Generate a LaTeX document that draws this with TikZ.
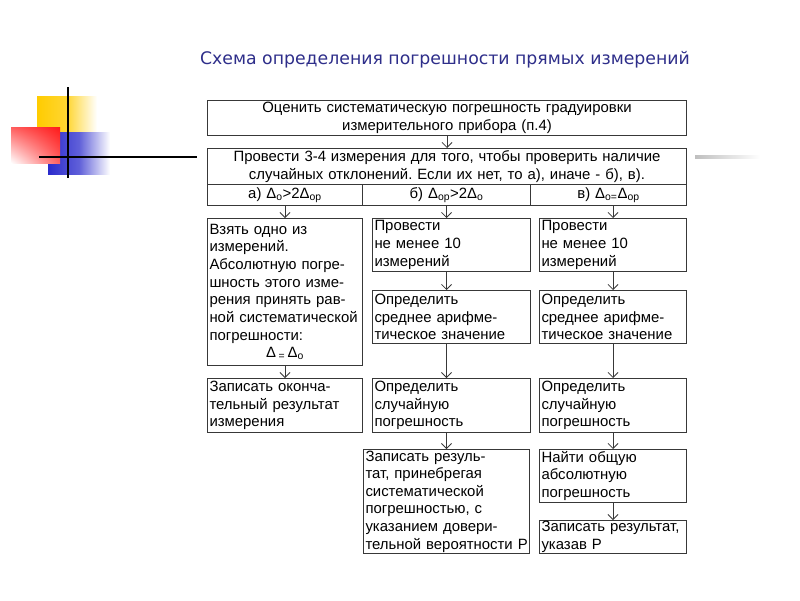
\documentclass[tikz,border=0pt]{standalone}
\usepackage{fontspec}
\setmainfont{Liberation Sans}
\newfontfamily\titlefont{DejaVu Sans}
\usetikzlibrary{arrows.meta,calc,shadings}
\definecolor{titleblue}{HTML}{2E2E8A}
\definecolor{lineg}{HTML}{383838}
\definecolor{decoyellow}{HTML}{FFCC00}
\definecolor{decored}{HTML}{FF1A1A}
\definecolor{decoblue}{HTML}{2B2BCC}
\frenchspacing
\begin{document}
\begin{tikzpicture}[x=1pt,y=-1pt,
  box/.style={draw=lineg, line width=1pt, anchor=north west, inner xsep=2pt, inner ysep=0pt,
    font=\frenchspacing\fontsize{14.9}{17.6}\selectfont, align=left},
  cbox/.style={box, align=center},
  arr/.style={draw=lineg, line width=0.8pt, -{Straight Barb[length=5pt,width=10pt,line width=0.8pt]}}
]
\useasboundingbox[fill=white] (0,0) rectangle (800,600);

% decoration
\shade[left color=decoyellow, right color=white, middle color=decoyellow!80] (37,96) rectangle (97,133);
\shade[left color=decoblue, right color=white, middle color=decoblue!75] (48,132) rectangle (110,174);
\shade[upper right=decored, upper left=decored!70, lower right=decored!70, lower left=white] (11,127) rectangle (60,163);
\draw[black, line width=2pt] (68,87) -- (68,178);
\draw[black, line width=2pt] (39,157) -- (197,157);
\shade[left color=black!25, right color=white] (695,155) rectangle (760,158);

% title
\node[font=\titlefont\fontsize{17.3}{20}\selectfont, text=titleblue] (title) at (445,60) {Схема определения погрешности прямых измерений};

% top boxes
\node[cbox, minimum width=479pt, text width=475pt, minimum height=35pt] (b1) at (207,100)
  {Оценить систематическую погрешность градуировки\\измерительного прибора (п.4)};
\node[cbox, minimum width=479pt, text width=475pt, minimum height=36pt] (b2) at (207,148)
  {Провести 3-4 измерения для того, чтобы проверить наличие\\случайных отклонений. Если их нет, то а), иначе - б), в).};
\node[cbox, minimum width=155pt, text width=151pt, minimum height=21pt] (ca) at (207,184)
  {а) Δ\textsubscript{о}>2Δ\textsubscript{ор}};
\node[cbox, minimum width=168pt, text width=164pt, minimum height=21pt] (cb) at (362,184)
  {б) Δ\textsubscript{ор}>2Δ\textsubscript{о}};
\node[cbox, minimum width=156pt, text width=152pt, minimum height=21pt] (cc) at (530,184)
  {в) Δ\textsubscript{о=}Δ\textsubscript{ор}};

% column a
\node[box, minimum width=155pt, text width=151pt, minimum height=147pt] (a1) at (207,218)
  {Взять~одно~из\\измерений.\\Абсолютную~погре-\\шность~этого~изме-\\рения~принять~рав-\\ной~систематической\\погрешности:\\\makebox[\hsize][c]{Δ\,\textsubscript{=}\,Δ\textsubscript{о}}};
\node[box, minimum width=155pt, text width=151pt, minimum height=54pt] (a2) at (207,378)
  {Записать~оконча-\\тельный~результат\\измерения};

% column b
\node[box, minimum width=158pt, text width=154pt, minimum height=53pt] (bb1) at (372,218)
  {Провести\\не~менее~10\\измерений};
\node[box, minimum width=158pt, text width=154pt, minimum height=53pt] (bb2) at (372,290)
  {Определить\\среднее~арифме-\\тическое~значение};
\node[box, minimum width=158pt, text width=154pt, minimum height=54pt] (bb3) at (372,378)
  {Определить\\случайную\\погрешность};
\node[box, minimum width=166pt, text width=162pt, minimum height=104pt] (bb4) at (363,449)
  {Записать~резуль-\\тат,~принебрегая\\систематической\\погрешностью,~с\\указанием~довери-\\тельной~вероятности~Р};

% column c
\node[box, minimum width=147pt, text width=143pt, minimum height=53pt] (cc1) at (539,218)
  {Провести\\не~менее~10\\измерений};
\node[box, minimum width=147pt, text width=143pt, minimum height=53pt] (cc2) at (539,290)
  {Определить\\среднее~арифме-\\тическое~значение};
\node[box, minimum width=147pt, text width=143pt, minimum height=54pt] (cc3) at (539,378)
  {Определить\\случайную\\погрешность};
\node[box, minimum width=147pt, text width=143pt, minimum height=53pt] (cc4) at (539,449)
  {Найти~общую\\абсолютную\\погрешность};
\node[box, minimum width=147pt, text width=143pt, minimum height=33pt] (cc5) at (539,520)
  {Записать~результат,\\указав~Р};

% arrows
\draw[arr] (b1.south) -- (b2.north);
\draw[arr] (ca.south) -- (ca.south |- a1.north);
\draw[arr] (cb.south) -- (cb.south |- bb1.north);
\draw[arr] (cc1.north |- cc.south) -- (cc1.north);
\draw[arr] (a1.south) -- (a2.north);
\draw[arr] (cb.south |- bb1.south) -- (cb.south |- bb2.north);
\draw[arr] (cb.south |- bb2.south) -- (cb.south |- bb3.north);
\draw[arr] (cb.south |- bb3.south) -- (cb.south |- bb4.north);
\draw[arr] (cc1.south) -- (cc2.north);
\draw[arr] (cc2.south) -- (cc3.north);
\draw[arr] (cc3.south) -- (cc4.north);
\draw[arr] (cc4.south) -- (cc5.north);
\end{tikzpicture}
\end{document}
